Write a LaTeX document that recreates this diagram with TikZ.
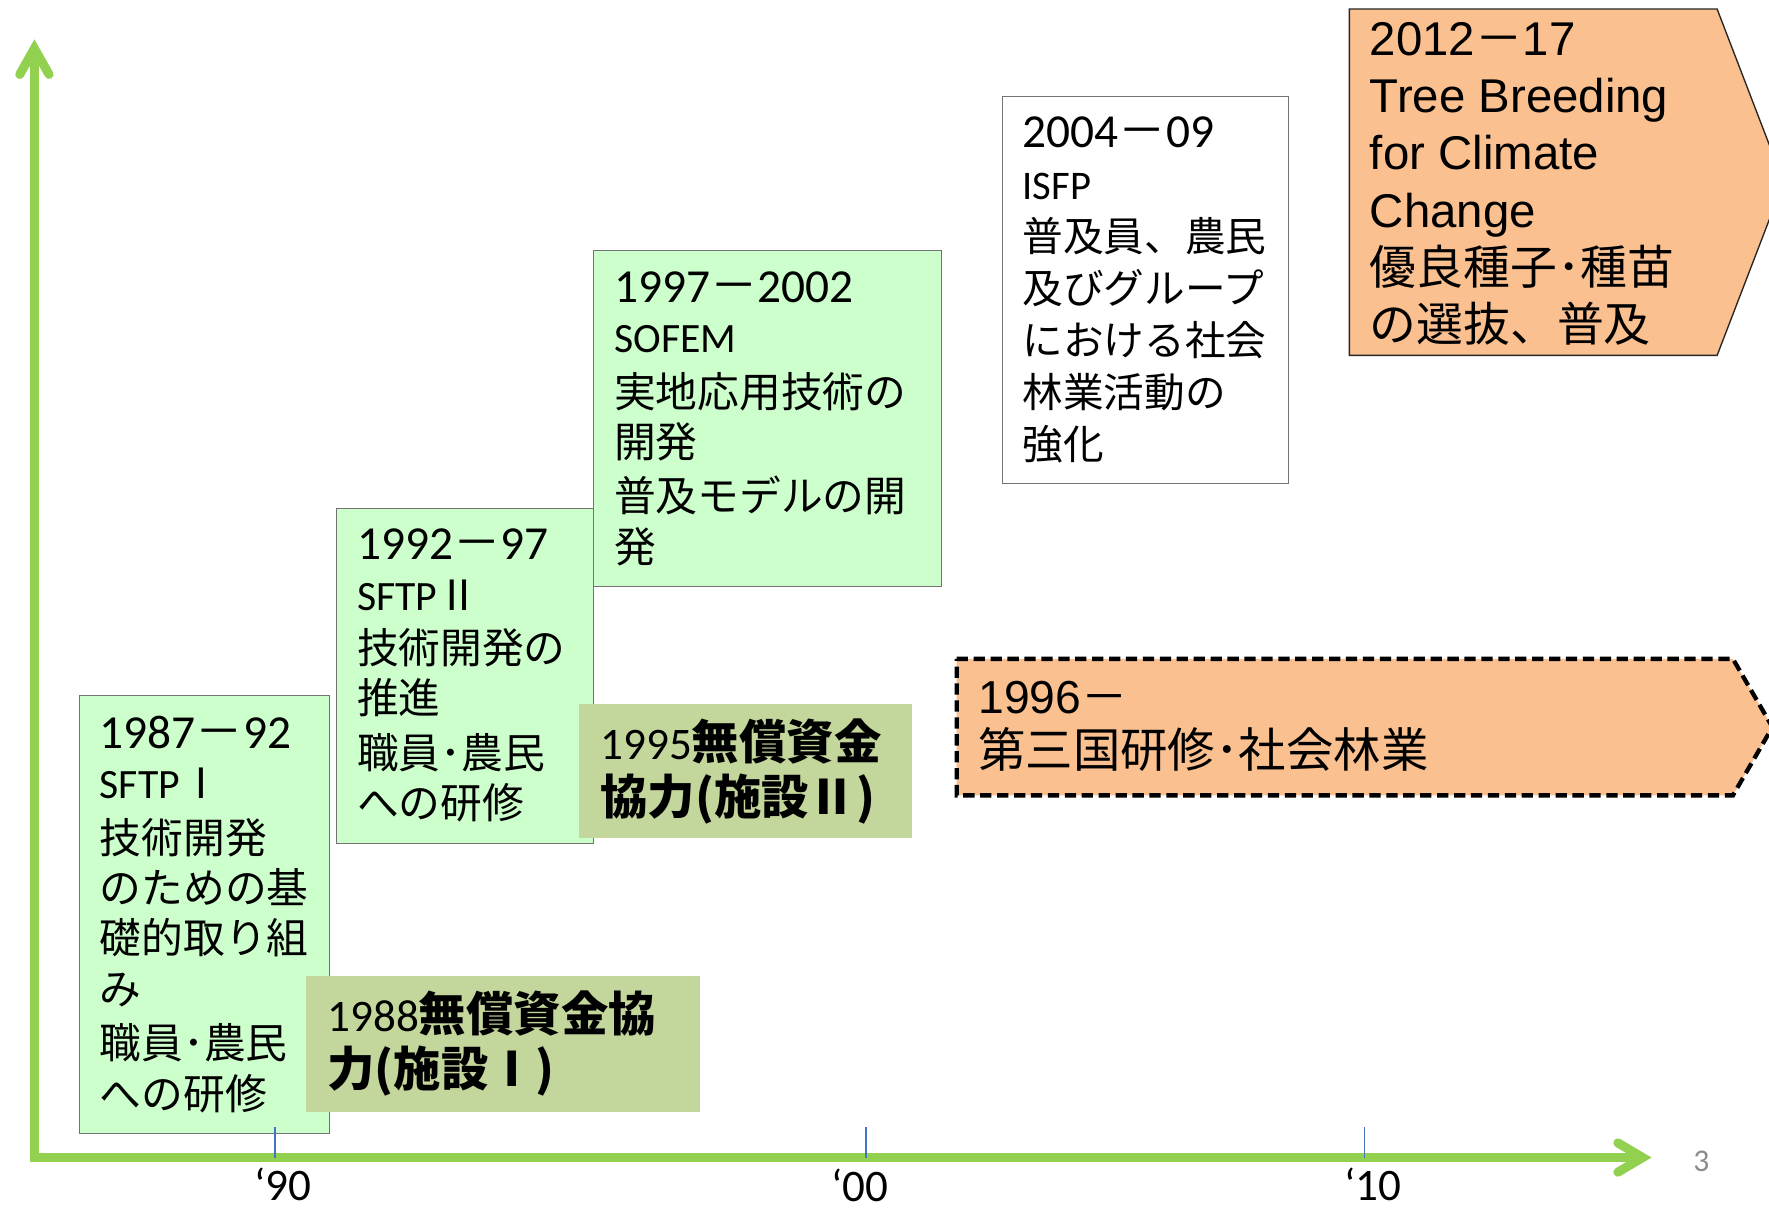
\documentclass[tikz,border=0pt]{standalone}
\usepackage{fontspec}
\setmainfont{Carlito}
\newfontfamily\jp{Noto Sans CJK JP}
\newfontfamily\arialf{Liberation Sans}
\usetikzlibrary{calc}
\definecolor{boxgreen}{HTML}{CCFFCC}
\definecolor{boxolive}{HTML}{C3D69B}
\definecolor{peach}{HTML}{FAC090}
\definecolor{axisgreen}{HTML}{92D050}
\definecolor{tickblue}{HTML}{4472C4}
\newcommand\J[1]{{\jp #1}}
\newcommand\JB[1]{{\jp\bfseries #1}}
\newcommand\fsz[2]{\fontsize{#1}{#2}\selectfont}
\tikzset{
 period/.style={draw=black!55, line width=0.9pt, fill=boxgreen, anchor=north west, align=left, inner xsep=18pt, inner ysep=0pt, font=\fsz{37}{44.5}},
 whitebox/.style={period, fill=white, font=\fsz{36}{46}},
 grant/.style={fill=boxolive, anchor=north west, align=left, inner xsep=19pt, inner ysep=0pt, font=\fsz{42}{49}},
 goal/.style={fill=peach, draw=black!85, line width=1.2pt, line join=miter},
 thirdc/.style={fill=peach, draw=black, line width=3.8pt, dash pattern=on 10pt off 5pt, line join=miter},
 shapetext/.style={anchor=west, align=left, inner sep=0pt},
 axisline/.style={draw=axisgreen, line width=8pt, line join=miter},
 tickmark/.style={draw=tickblue, line width=1.4pt},
 yearlbl/.style={font=\fsz{40}{44}, inner sep=0pt},
}
\begin{document}
\begin{tikzpicture}[x=1pt,y=-1pt]
\useasboundingbox (0,0) rectangle (1568,1074);
\clip (0,0) rectangle (1568,1074);
\fill[white] (0,0) rectangle (1568,1074);

% green period boxes
\node[period, minimum height=388pt, text width=186pt] (p87) at (70,616) {%
{\fsz{42}{44.5}1987\J{－}92}\\
SFTP\J{Ⅰ}\\[4pt]
\J{技術開発}\\
\J{のための基}\\
\J{礎的取り組}\\
\J{み}\\[4pt]
\J{職員･農民}\\
\J{への研修}};

\node[period, minimum height=297pt, text width=192pt] (p92) at (298,450) {%
{\fsz{42}{44.5}1992\J{－}97}\\
SFTP\J{Ⅱ}\\[3pt]
\J{技術開発の}\\
\J{推進}\\[4pt]
\J{職員･農民}\\
\J{への研修}};

\node[period, minimum height=297pt, text width=272pt] (p97) at (526,222) {%
{\fsz{42}{44.5}1997\J{－}2002}\\
SOFEM\\[4pt]
\J{実地応用技術の}\\
\J{開発}\\[4pt]
\J{普及モデルの開}\\
\J{発}};

\node[whitebox, minimum height=343pt, text width=218pt] (p04) at (888,85) {%
{\fsz{42}{46}2004\J{－}09}\\
ISFP\\
\J{普及員、農民}\\
\J{及びグループ}\\
\J{における社会}\\
\J{林業活動の}\\
\J{強化}};

% grant aid boxes
\node[grant, minimum height=120pt, text width=311pt] (g88) at (271,865) {%
{\fsz{40}{49}1988}\JB{無償資金協}\\
\JB{力(施設Ⅰ)}};

\node[grant, minimum height=119pt, text width=257pt] (g95) at (513,624) {%
{\fsz{40}{49}1995}\JB{無償資金}\\
\JB{協力(施設Ⅱ)}};

% 2012-17 pentagon
\path[goal] (1196,8) -- (1522,8) -- (1581,161.5) -- (1522,315) -- (1196,315) -- cycle;
\node[shapetext, font=\arialf\fsz{42}{50.8}] (tb12) at (1214,163) {%
2012\J{－}17\\
Tree Breeding\\
for Climate\\
Change\\
{\jp\fsz{41.5}{50.8}優良種子･種苗}\\
{\jp\fsz{41.5}{50.8}の選抜、普及}};

% 1996- dashed pentagon
\path[thirdc] (848,584) -- (1536,584) -- (1571,644.5) -- (1536,705) -- (848,705) -- cycle;
\node[shapetext, font=\arialf\fsz{41}{48}] (tc96) at (867,644) {%
1996\J{－}\\
{\jp\fsz{42}{48}第三国研修･社会林業}};

% axes
\coordinate (O) at (30.5,1026);
\coordinate (ytip) at (30.5,43);
\coordinate (xtip) at (1456,1026);
\draw[axisline] (ytip) -- (O) -- (xtip);
\draw[axisline, line cap=round] ($(ytip)+(-13,23)$) -- (ytip) -- ($(ytip)+(13,23)$);
\draw[axisline, line cap=round] ($(xtip)+(-22,-13)$) -- (xtip) -- ($(xtip)+(-22,13)$);

% ticks
\foreach \nm/\xx in {t90/244, t00/767.5, t10/1209.5}{
  \coordinate (\nm a) at (\xx,999);
  \coordinate (\nm b) at (\xx,1026);
  \draw[tickmark] (\nm a) -- (\nm b);
}

% year labels
\node[yearlbl] (l90) at (251,1050) {‘90};
\node[yearlbl] (l00) at (762,1051) {‘00};
\node[yearlbl] (l10) at (1217,1050) {‘10};

% page number
\node[font=\fsz{28}{30}, text=black!45, inner sep=0pt] (pg) at (1508,1029) {3};
\end{tikzpicture}
\end{document}
